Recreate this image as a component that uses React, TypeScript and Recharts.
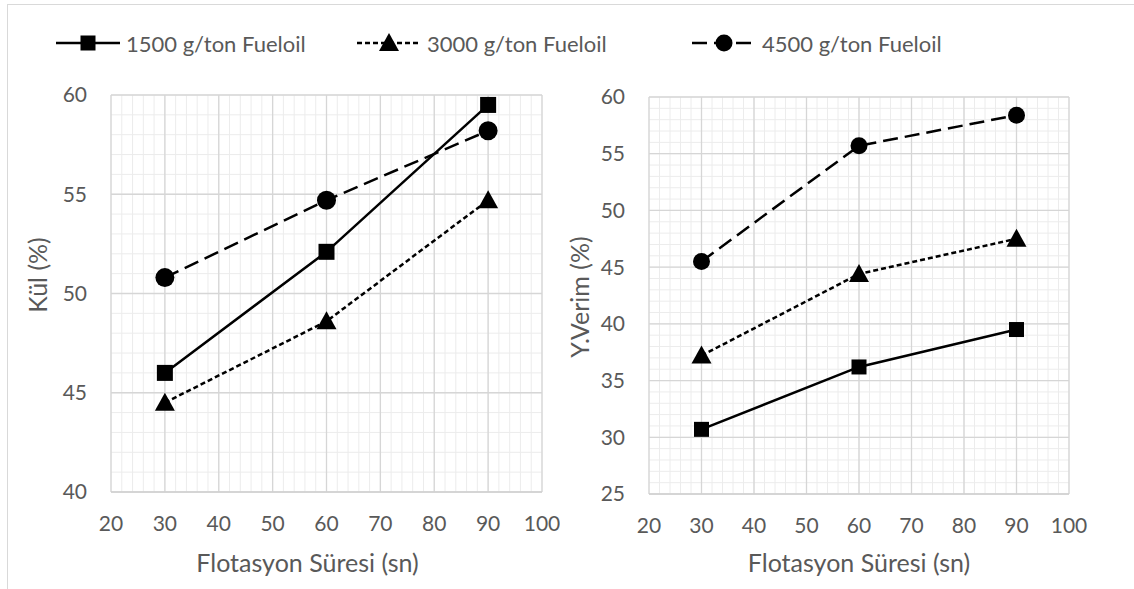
import React from 'react';
import { LineChart, Line, XAxis, YAxis, CartesianGrid } from 'recharts';

// flotation time (sn)
const xValues = [30, 60, 90];

// Kül (%)
const kul1500 = [46.0, 52.1, 59.5];
const kul3000 = [44.5, 48.6, 54.7];
const kul4500 = [50.8, 54.7, 58.2];

// Y.Verim (%)
const verim1500 = [30.7, 36.2, 39.5];
const verim3000 = [37.2, 44.4, 47.5];
const verim4500 = [45.5, 55.7, 58.4];

const xTicks = [20, 30, 40, 50, 60, 70, 80, 90, 100];
const kulTicks = [40, 45, 50, 55, 60];
const verimTicks = [25, 30, 35, 40, 45, 50, 55, 60];

const seriesNames = ['1500 g/ton Fueloil', '3000 g/ton Fueloil', '4500 g/ton Fueloil'];
const seriesKeys = ['s1500', 's3000', 's4500'];

const FONT = 'Lato, "Open Sans", sans-serif';
const TEXT = '#595959';

const styles = [
  { dash: undefined, marker: 'square' },
  { dash: '5 3', marker: 'triangle' },
  { dash: '15 7', marker: 'circle' },
];

// minor gridline positions
const steps = (from: number, to: number, step: number) => {
  const out: number[] = [];
  for (let v = from; v <= to + 1e-9; v += step) out.push(v);
  return out;
};
const minorX = steps(20, 100, 2);

const buildRows = (a: number[], b: number[], c: number[]) =>
  xValues.map((x, i) => ({ x, s1500: a[i], s3000: b[i], s4500: c[i] }));

const kulData = buildRows(kul1500, kul3000, kul4500);
const verimData = buildRows(verim1500, verim3000, verim4500);

const Marker = ({ cx, cy, shape, big }: any) => {
  if (cx == null || cy == null) return null;
  if (shape === 'square') {
    const s = big ? 16 : 15;
    return <rect x={cx - s / 2} y={cy - s / 2} width={s} height={s} fill="#000" />;
  }
  if (shape === 'circle') {
    return <circle cx={cx} cy={cy} r={big ? 9.5 : 8.5} fill="#000" />;
  }
  return (
    <polygon
      points={`${cx},${cy - 10} ${cx - 10},${cy + 8} ${cx + 10},${cy + 8}`}
      fill="#000"
    />
  );
};

interface PanelProps {
  data: any[];
  yDomain: [number, number];
  yTicks: number[];
  yTitle: string;
  width: number;
  left: number;
  marginTop: number;
  marginRight: number;
  yAxisWidth: number;
  xAxisHeight: number;
  yTitleX: number;
  yTitleY: number;
  xTitleDx: number;
  big: boolean;
}

const Panel: React.FC<PanelProps> = (p) => {
  const tickStyle = { fill: TEXT, fontSize: 21, fontFamily: FONT };
  const minorY = steps(p.yDomain[0], p.yDomain[1], 1);
  return (
    <div style={{ position: 'absolute', left: p.left, top: 0 }}>
      <LineChart
        width={p.width}
        height={589}
        data={p.data}
        margin={{ top: p.marginTop, right: p.marginRight, bottom: 17, left: 0 }}
      >
        <CartesianGrid
          xAxisId="minor"
          yAxisId="minor"
          stroke="#ececec"
          strokeWidth={1}
        />
        <CartesianGrid stroke="#d6d6d6" strokeWidth={1.3} />
        <XAxis
          xAxisId="minor"
          dataKey="x"
          type="number"
          domain={[20, 100]}
          ticks={minorX}
          interval={0}
          allowDataOverflow
          hide
        />
        <YAxis
          yAxisId="minor"
          type="number"
          domain={p.yDomain}
          ticks={minorY}
          interval={0}
          allowDataOverflow
          hide
        />
        <XAxis
          dataKey="x"
          type="number"
          domain={[20, 100]}
          ticks={xTicks}
          interval={0}
          allowDataOverflow
          height={p.xAxisHeight}
          axisLine={{ stroke: '#cccccc' }}
          tickLine={false}
          tickSize={0}
          tickMargin={24}
          tick={tickStyle}
          label={{
            content: ({ viewBox }: any) => (
              <text
                x={viewBox.x + viewBox.width / 2 + p.xTitleDx}
                y={viewBox.y + viewBox.height}
                textAnchor="middle"
                fill={TEXT}
                fontSize={25}
                fontFamily={FONT}
              >
                Flotasyon Süresi (sn)
              </text>
            ),
          }}
        />
        <YAxis
          type="number"
          domain={p.yDomain}
          ticks={p.yTicks}
          interval={0}
          allowDataOverflow
          width={p.yAxisWidth}
          axisLine={false}
          tickLine={false}
          tickSize={0}
          tickMargin={24}
          tick={tickStyle}
          label={{
            content: () => (
              <text
                x={p.yTitleX}
                y={p.yTitleY}
                transform={`rotate(-90 ${p.yTitleX} ${p.yTitleY})`}
                textAnchor="middle"
                dominantBaseline="central"
                fill={TEXT}
                fontSize={25}
                fontFamily={FONT}
              >
                {p.yTitle}
              </text>
            ),
          }}
        />
        {seriesKeys.map((k, i) => (
          <Line
            key={k}
            type="linear"
            dataKey={k}
            name={seriesNames[i]}
            stroke="#000"
            strokeWidth={2.5}
            strokeDasharray={styles[i].dash}
            isAnimationActive={false}
            dot={(d: any) => (
              <Marker key={`${k}-${d.index}`} cx={d.cx} cy={d.cy} shape={styles[i].marker} big={p.big} />
            )}
            activeDot={false}
          />
        ))}
      </LineChart>
    </div>
  );
};

const legendX = [56, 357, 692];

const Legend: React.FC = () => (
  <>
    {seriesNames.map((name, i) => (
      <div
        key={name}
        style={{
          position: 'absolute',
          left: legendX[i],
          top: 30,
          height: 26,
          display: 'flex',
          alignItems: 'center',
          whiteSpace: 'nowrap',
        }}
      >
        <svg width={66} height={26}>
          <line
            x1={0}
            y1={13}
            x2={64}
            y2={13}
            stroke="#000"
            strokeWidth={2.5}
            strokeDasharray={styles[i].dash}
          />
          <Marker cx={32} cy={13} shape={styles[i].marker} big={false} />
        </svg>
        <span style={{ marginLeft: 4, color: TEXT, fontSize: 22, fontFamily: FONT }}>{name}</span>
      </div>
    ))}
  </>
);

export default function App() {
  return (
    <div
      style={{
        position: 'absolute',
        left: 0,
        top: 0,
        width: 1134,
        height: 589,
        background: '#fff',
        overflow: 'hidden',
        fontFamily: FONT,
      }}
    >
      <div
        style={{
          position: 'absolute',
          left: 7,
          top: 4,
          width: 1140,
          height: 600,
          border: '1px solid #d9d9d9',
        }}
      />
      <Legend />
      <Panel
        data={kulData}
        yDomain={[40, 60]}
        yTicks={kulTicks}
        yTitle="Kül (%)"
        width={560}
        left={0}
        marginTop={95}
        marginRight={18}
        yAxisWidth={111}
        xAxisHeight={80}
        yTitleX={37}
        yTitleY={275}
        xTitleDx={-19}
        big
      />
      <Panel
        data={verimData}
        yDomain={[25, 60]}
        yTicks={verimTicks}
        yTitle="Y.Verim (%)"
        width={574}
        left={560}
        marginTop={97}
        marginRight={65}
        yAxisWidth={89}
        xAxisHeight={78}
        yTitleX={19}
        yTitleY={297}
        xTitleDx={0}
        big={false}
      />
    </div>
  );
}
